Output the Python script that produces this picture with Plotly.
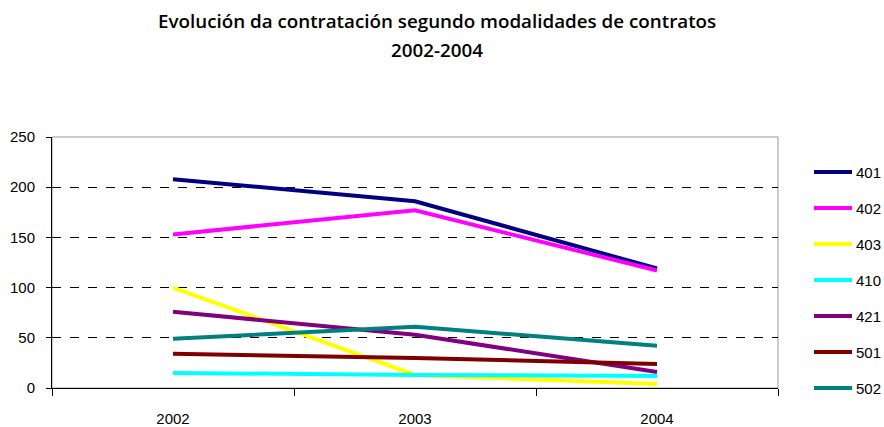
import plotly.graph_objects as go

years = ["2002", "2003", "2004"]
series_names = ["401", "402", "403", "410", "421", "501", "502"]
v401 = [208, 186, 119]
v402 = [153, 177, 117]
v403 = [100, 13, 4]
v410 = [15, 13, 12]
v421 = [76, 53, 16]
v501 = [34, 30, 24]
v502 = [49, 61, 42]
colors = ["#000080", "#FF00FF", "#FFFF00", "#00FFFF", "#800080", "#800000", "#008080"]
y_ticks = [0, 50, 100, 150, 200, 250]

values = [v401, v402, v403, v410, v421, v501, v502]

# plot area geometry in pixels
W, H = 884, 427
L, R, T, B = 52, 106, 137, 39
PW, PH = W - L - R, H - T - B


def px_x(x):
    return (x - L) / PW


def px_y(y):
    return (H - B - y) / PH


fig = go.Figure()
for name, vals, col in zip(series_names, values, colors):
    fig.add_trace(go.Scatter(
        x=years, y=vals, name=name, mode="lines",
        line=dict(color=col, width=4),
        showlegend=False,
    ))

tick_font = dict(family="Liberation Sans, Arial, sans-serif", size=15, color="#000000")
title_font = dict(family="Open Sans", size=18.8, color="#000000", weight=600)

# legend: key line + label per series, stacked at a fixed pitch
shapes = [dict(
    type="rect", xref="paper", yref="paper", x0=0, x1=1, y0=0, y1=1,
    line=dict(color="#999999", width=1), layer="below",
)]
annotations = []
for i, (name, col) in enumerate(zip(series_names, colors)):
    yc = px_y(172 + 36 * i)
    shapes.append(dict(
        type="line", xref="paper", yref="paper",
        x0=px_x(814), x1=px_x(852), y0=yc, y1=yc,
        line=dict(color=col, width=4),
    ))
    annotations.append(dict(
        text=name, xref="paper", yref="paper", x=px_x(854), y=yc,
        xanchor="left", yanchor="middle", showarrow=False, font=tick_font,
    ))

annotations += [
    dict(text="Evolución da contratación segundo modalidades de contratos",
         xref="paper", yref="paper", x=px_x(437), y=px_y(21),
         xanchor="center", yanchor="middle", showarrow=False, font=title_font),
    dict(text="2002-2004",
         xref="paper", yref="paper", x=px_x(437), y=px_y(50),
         xanchor="center", yanchor="middle", showarrow=False, font=title_font),
]

fig.update_layout(
    width=W, height=H,
    margin=dict(l=L, r=R, t=T, b=B),
    paper_bgcolor="white", plot_bgcolor="white",
    showlegend=False,
    xaxis=dict(
        type="category", range=[-0.5, 2.5],
        tickson="boundaries", ticks="outside", ticklen=7, tickcolor="#000000",
        showline=True, linecolor="#000000", linewidth=1,
        showgrid=False, tickfont=tick_font, zeroline=False,
        ticklabelstandoff=17, automargin=False,
    ),
    yaxis=dict(
        range=[0, 250], tickvals=y_ticks,
        ticks="outside", ticklen=5, tickcolor="#000000",
        showline=True, linecolor="#000000", linewidth=1,
        showgrid=True, gridcolor="#000000", griddash="dash", gridwidth=1,
        tickfont=tick_font, zeroline=False, ticklabelstandoff=8, automargin=False,
    ),
    shapes=shapes,
    annotations=annotations,
)

fig.write_html("out.html")
